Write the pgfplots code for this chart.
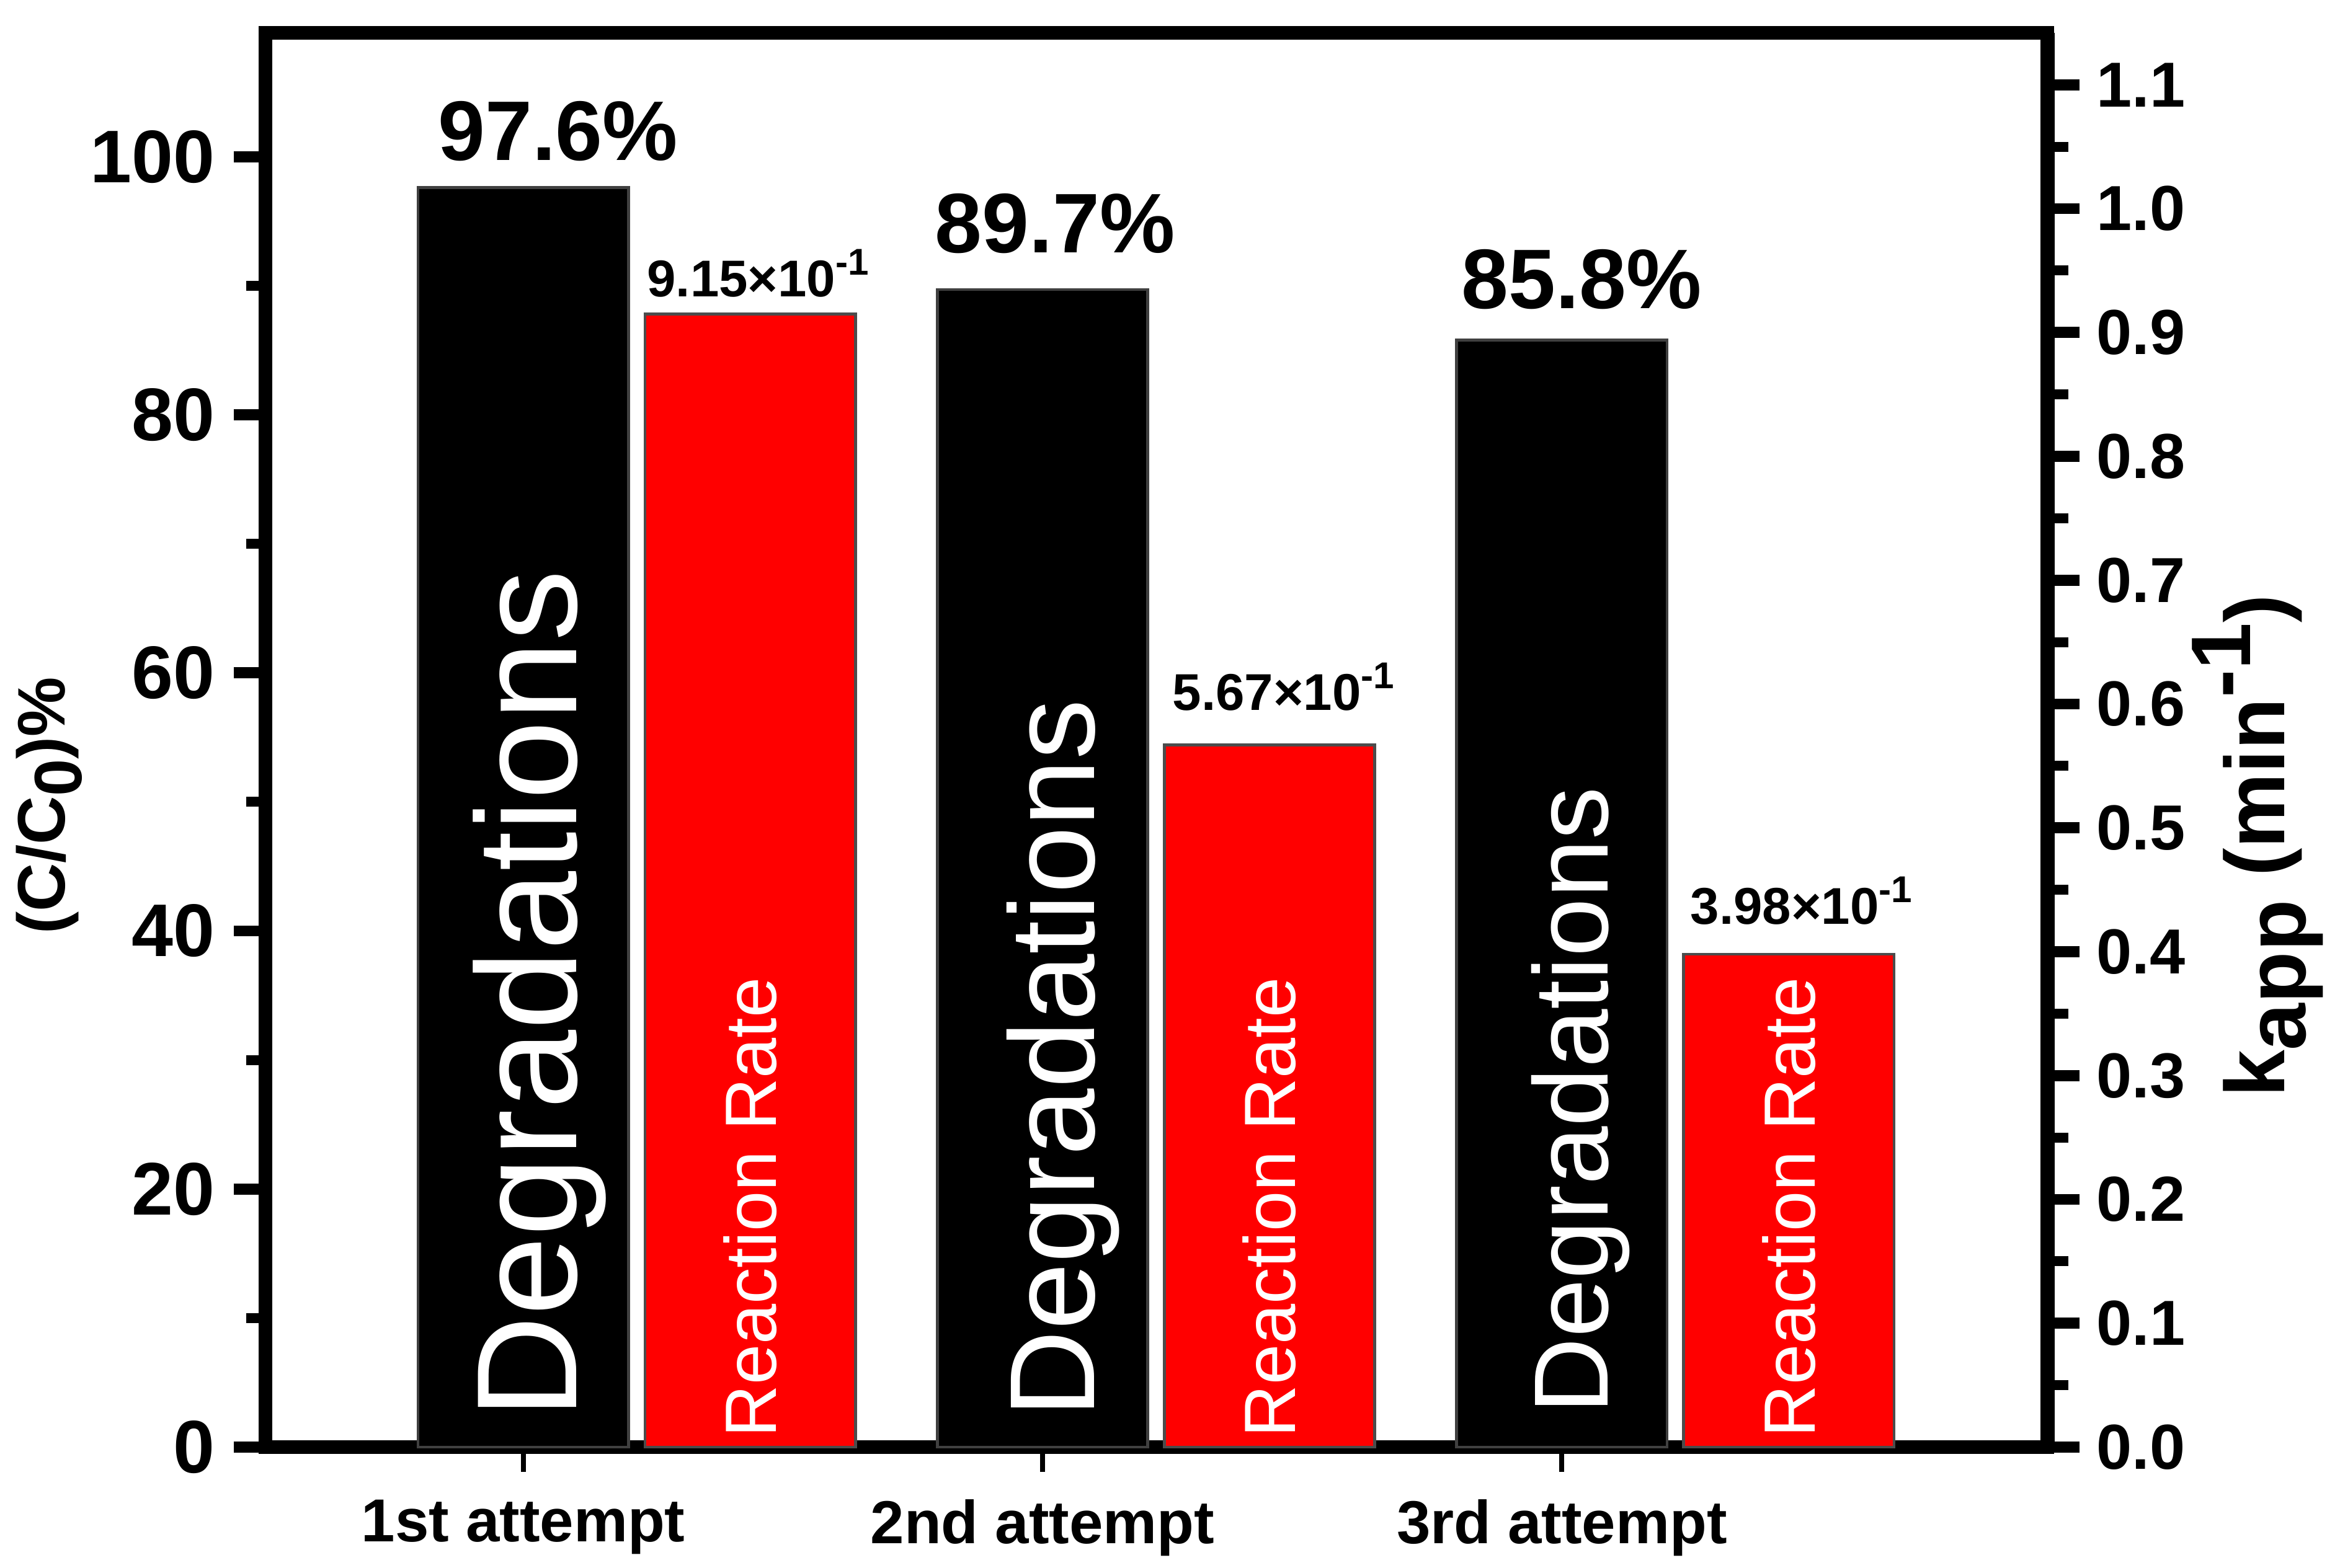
\documentclass[border=0pt]{standalone}
\usepackage{fontspec}
\setmainfont{Liberation Sans}
\usepackage{pgfplots}
\pgfplotsset{compat=1.18}
\definecolor{rateRed}{RGB}{255,0,0}

\newcommand{\degfont}[1]{\fontsize{#1}{#1}\selectfont}

\begin{document}
\begin{tikzpicture}
\useasboundingbox (-53.4pt,-24.3pt) rectangle (417pt,291pt);

% left axis: degradation (%)
\begin{axis}[
  scale only axis,
  width=358.2pt, height=284.4pt,
  xmin=0.504, xmax=3.935,
  ymin=0, ymax=109.6,
  axis line style={line width=2.7pt},
  tick align=outside,
  tick style={black},
  xtick pos=bottom, ytick pos=left,
  xtick={1,2,3},
  xticklabels={1st attempt,2nd attempt,3rd attempt},
  ytick={0,20,40,60,80,100},
  minor y tick num=1,
  major tick length=6.4pt, minor tick length=3.9pt,
  ytick style={line width=2.2pt},
  minor y tick style={line width=2pt},
  xtick style={line width=1pt, /pgfplots/major tick length=5pt},
  /pgf/number format/assume math mode=true,
  yticklabel style={font=\fontsize{15}{16}\selectfont\bfseries, inner sep=0pt, xshift=-3.6pt},
  xticklabel style={font=\fontsize{12.2}{14}\selectfont\bfseries, inner sep=1pt, yshift=-3pt},
  ylabel={(C/C\raisebox{-0.25em}{0})\%},
  ylabel style={at={(axis description cs:-0.1214,0.4536)}, anchor=center,
    font=\fontsize{13.5}{15}\selectfont\bfseries},
  clip=false,
]
\addplot[ybar, bar width=0.405, bar shift=0pt, fill=black, draw=black!75, line width=0.6pt]
  coordinates {(1,97.6) (2,89.7) (3,85.8)};

\node[font=\fontsize{17}{19}\selectfont\bfseries] at (axis cs:1.067,102.0) {97.6\%};
\node[font=\fontsize{17}{19}\selectfont\bfseries] at (axis cs:2.024,94.8) {89.7\%};
\node[font=\fontsize{17}{19}\selectfont\bfseries] at (axis cs:3.038,90.5) {85.8\%};

\node[rotate=90, anchor=base west, inner sep=0pt, text=white, font=\degfont{28.7}] at (axis cs:1.103,2.1) {Degradations};
\node[rotate=90, anchor=base west, inner sep=0pt, text=white, font=\degfont{24.3}] at (axis cs:2.100,2.2) {Degradations};
\node[rotate=90, anchor=base west, inner sep=0pt, text=white, font=\degfont{21.2}] at (axis cs:3.088,2.5) {Degradations};
\end{axis}

% right axis: apparent rate constant
\begin{axis}[
  scale only axis,
  width=358.2pt, height=284.4pt,
  xmin=0.504, xmax=3.935,
  ymin=0, ymax=1.142,
  axis x line=none,
  axis y line*=right,
  axis line style={line width=2.9pt},
  tick align=outside,
  tick style={black},
  ytick={0,0.1,...,1.1},
  minor y tick num=1,
  major tick length=6.4pt, minor tick length=4.2pt,
  ytick style={line width=2.2pt},
  minor y tick style={line width=2pt},
  /pgf/number format/assume math mode=true,
  yticklabel style={font=\fontsize{12.8}{14}\selectfont\bfseries, inner sep=0pt, xshift=3.3pt,
    /pgf/number format/.cd, fixed, fixed zerofill, precision=1},
  ylabel={k\raisebox{-0.25em}{app} (min\raisebox{0.4em}{-1})},
  ylabel style={at={(axis description cs:1.118,0.425)}, anchor=center,
    font=\fontsize{17}{19}\selectfont\bfseries},
  clip=false,
]
\addplot[ybar, bar width=0.405, bar shift=0pt, fill=rateRed, draw=black!70, line width=0.6pt]
  coordinates {(1.437,0.915) (2.437,0.567) (3.437,0.398)};

\node[font=\fontsize{10.4}{11}\selectfont\bfseries] at (axis cs:1.452,0.948) {9.15×10\raisebox{0.42em}{\fontsize{7.5}{8}\selectfont -1}};
\node[font=\fontsize{10.4}{11}\selectfont\bfseries] at (axis cs:2.464,0.614) {5.67×10\raisebox{0.42em}{\fontsize{7.5}{8}\selectfont -1}};
\node[font=\fontsize{10.4}{11}\selectfont\bfseries] at (axis cs:3.461,0.441) {3.98×10\raisebox{0.42em}{\fontsize{7.5}{8}\selectfont -1}};

\node[rotate=90, anchor=base west, inner sep=0pt, text=white, font=\degfont{14.6}] at (axis cs:1.487,0.007) {Reaction Rate};
\node[rotate=90, anchor=base west, inner sep=0pt, text=white, font=\degfont{14.6}] at (axis cs:2.487,0.007) {Reaction Rate};
\node[rotate=90, anchor=base west, inner sep=0pt, text=white, font=\degfont{14.6}] at (axis cs:3.487,0.007) {Reaction Rate};
\end{axis}
\end{tikzpicture}
\end{document}
